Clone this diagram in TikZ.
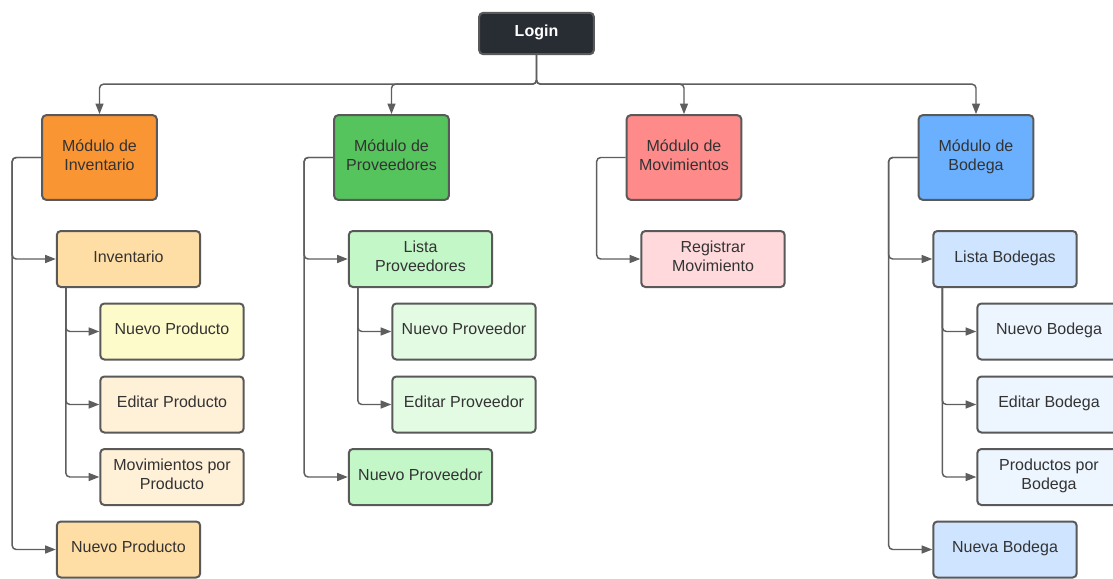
\documentclass[tikz,border=0pt]{standalone}
\usepackage{fontspec}
\setmainfont{Liberation Sans}
\usepackage{tikz}
\usetikzlibrary{arrows.meta, positioning}
\definecolor{loginDark}{HTML}{282C33}
\definecolor{borderGray}{HTML}{595959}
\definecolor{lineGray}{HTML}{5E5E5E}
\definecolor{textGray}{HTML}{333333}
\definecolor{invMain}{HTML}{FA9534}
\definecolor{invTwo}{HTML}{FFDEA6}
\definecolor{invNew}{HTML}{FEFBCB}
\definecolor{invThree}{HTML}{FFF0D8}
\definecolor{provMain}{HTML}{56C45C}
\definecolor{provTwo}{HTML}{C3F7C8}
\definecolor{provThree}{HTML}{E3FAE3}
\definecolor{movMain}{HTML}{FF8A8A}
\definecolor{movTwo}{HTML}{FFD9DB}
\definecolor{bodMain}{HTML}{6AB0FF}
\definecolor{bodTwo}{HTML}{CFE4FF}
\definecolor{bodThree}{HTML}{EDF5FF}

\begin{document}
\begin{tikzpicture}[
    x=0.75pt, y=-0.75pt,
    every node/.style={font=\fontsize{12}{14.5}\selectfont, text=textGray},
    box/.style={
        rectangle, draw=borderGray, rounded corners=3pt,
        line width=1.5pt, align=center, inner sep=2pt, text depth=4pt
    },
    modbox/.style={box, minimum width=86pt, minimum height=63.5pt},
    subbox/.style={box, minimum width=107.5pt, minimum height=42pt},
    arrow/.style={-{Triangle[length=8pt,width=6pt]}, line width=1.1pt,
        draw=lineGray, rounded corners=3pt}
]
\useasboundingbox (0,0) rectangle (1113,578);
\clip (0,0) rectangle (1113,578);

\node[box, fill=loginDark, text=white, font=\fontsize{12}{14.5}\selectfont\bfseries,
      minimum width=86pt, minimum height=31pt] (login) at (536.5,33.5) {Login};

\node[modbox, fill=invMain] (modinv) at (99.5,157.5) {Módulo de\\Inventario};
\node[modbox, fill=provMain] (modprov) at (391.5,157.5) {Módulo de\\Proveedores};
\node[modbox, fill=movMain] (modmov) at (684,157.5) {Módulo de\\Movimientos};
\node[modbox, fill=bodMain] (modbod) at (976,157.5) {Módulo de\\Bodega};

% inventario
\node[subbox, fill=invTwo] (inv) at (128.5,259) {Inventario};
\node[subbox, fill=invNew] (invnew) at (172,331.5) {Nuevo Producto};
\node[subbox, fill=invThree] (invedit) at (172,404.5) {Editar Producto};
\node[subbox, fill=invThree] (invmov) at (172,477) {Movimientos por\\Producto};
\node[subbox, fill=invTwo] (newprod) at (128.5,549.5) {Nuevo Producto};

% proveedores
\node[subbox, fill=provTwo] (listprov) at (420.5,259) {Lista\\Proveedores};
\node[subbox, fill=provThree] (provnew) at (464,331.5) {Nuevo Proveedor};
\node[subbox, fill=provThree] (provedit) at (464,404.5) {Editar Proveedor};
\node[subbox, fill=provTwo] (newprov) at (420.5,477) {Nuevo Proveedor};

% movimientos
\node[subbox, fill=movTwo] (regmov) at (713,259) {Registrar\\Movimiento};

% bodega
\node[subbox, fill=bodTwo] (listbod) at (1005,259) {Lista Bodegas};
\node[subbox, fill=bodThree] (bodnew) at (1049,331.5) {Nuevo Bodega};
\node[subbox, fill=bodThree] (bodedit) at (1049,404.5) {Editar Bodega};
\node[subbox, fill=bodThree] (bodprod) at (1049,477) {Productos por\\Bodega};
\node[subbox, fill=bodTwo] (newbod) at (1005,549.5) {Nueva Bodega};

\draw[arrow] (login.south) -- ++(0,29) -| (modinv.north);
\draw[arrow] (login.south) -- ++(0,29) -| (modprov.north);
\draw[arrow] (login.south) -- ++(0,29) -| (modmov.north);
\draw[arrow] (login.south) -- ++(0,29) -| (modbod.north);

\draw[arrow] (modinv.west) -- ++(-29,0) |- (inv.west);
\draw[arrow] (modinv.west) -- ++(-29,0) |- (newprod.west);
\draw[arrow] (modprov.west) -- ++(-29,0) |- (listprov.west);
\draw[arrow] (modprov.west) -- ++(-29,0) |- (newprov.west);
\draw[arrow] (modmov.west) -- ++(-29,0) |- (regmov.west);
\draw[arrow] (modbod.west) -- ++(-29,0) |- (listbod.west);
\draw[arrow] (modbod.west) -- ++(-29,0) |- (newbod.west);

\coordinate (invtap) at ([xshift=7.5pt]inv.south west);
\coordinate (provtap) at ([xshift=7.5pt]listprov.south west);
\coordinate (bodtap) at ([xshift=7.5pt]listbod.south west);

\draw[arrow] (invtap) |- (invnew.west);
\draw[arrow] (invtap) |- (invedit.west);
\draw[arrow] (invtap) |- (invmov.west);
\draw[arrow] (provtap) |- (provnew.west);
\draw[arrow] (provtap) |- (provedit.west);
\draw[arrow] (bodtap) |- (bodnew.west);
\draw[arrow] (bodtap) |- (bodedit.west);
\draw[arrow] (bodtap) |- (bodprod.west);

\end{tikzpicture}
\end{document}
